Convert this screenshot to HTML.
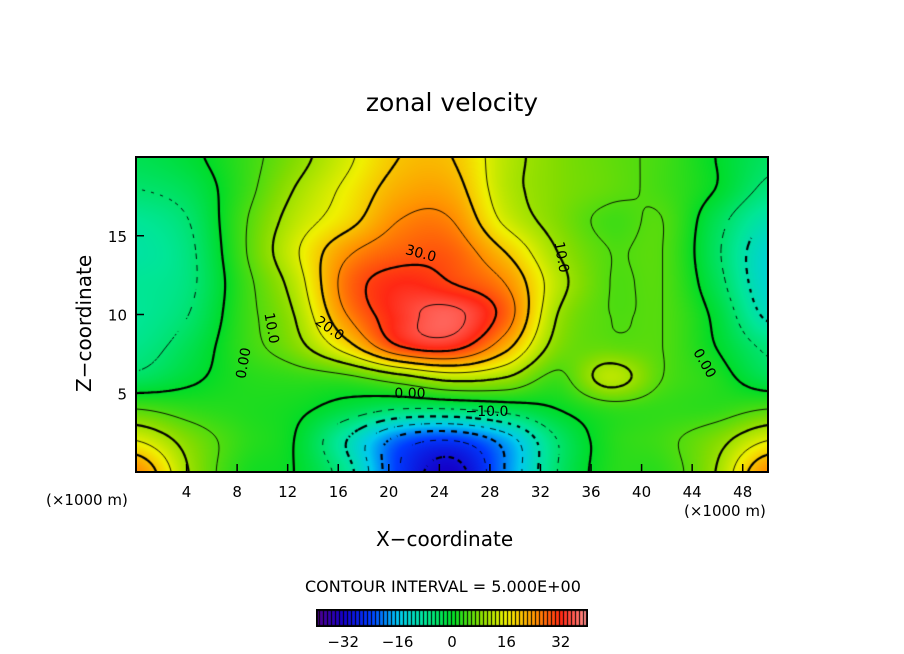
<!DOCTYPE html>
<html><head><meta charset="utf-8"><style>
body{margin:0;background:#fff;width:904px;height:654px;overflow:hidden;position:relative;font-family:"DejaVu Sans","Liberation Sans",sans-serif;}
.t{position:absolute;color:#000;white-space:nowrap;}
</style></head><body>
<div class="t" style="left:0;width:904px;text-align:center;top:88px;font-size:25px;">zonal velocity</div>
<canvas id="c" width="632" height="315" style="position:absolute;left:136px;top:157px"></canvas>
<canvas id="cb" width="272" height="18" style="position:absolute;left:316px;top:609px"></canvas>
<svg id="s" width="904" height="654" style="position:absolute;left:0;top:0;z-index:2"></svg>
<div class="t" style="font-size:20px;transform:rotate(-90deg);transform-origin:0 0;top:392px;left:72px;">Z−coordinate</div>
<div class="t" style="left:376px;top:527px;font-size:20px;">X−coordinate</div>
<div class="t" style="left:46px;top:491px;font-size:15px;">(×1000 m)</div>
<div class="t" style="left:684px;top:502px;font-size:15px;">(×1000 m)</div>
<div class="t" style="left:305px;top:577px;font-size:16px;">CONTOUR INTERVAL = 5.000E+00</div>
<script>
const xs=[0,4.1667,8.3333,12.5,16.6667,20.8333,25,29.1667,33.3333,37.5,41.6667,45.8333,50];
const ys=[0,2,4,6,8,10,12,14,16,18,20];
const r0=[25,10,2,0,-8,-25,-32,-20,-5,2,3,10,25];
const r2=[15,8,3,0,-10,-22,-25,-18,-5,2,4,8,15];
const r4=[5,3,2,1,-2,-5,-5,-3,0,3,3,3,5];
const r6=[-4,-1,2,3,4,8,12,10,4,12,5,2,-3];
const r8=[-7,-3,3,8,18,30,32,22,8,6,5,0,-6];
const r10=[-8,-5,3,10,25,33,36,28,10,5,5,-1,-11];
const r12=[-8,-6,3,12,27,32,30,25,12,5,5,-3,-13];
const r14=[-9,-6,4,14,24,28,28,20,10,5,5,-4,-13];
const r16=[-8,-5,4,12,18,25,25,14,8,4,5,-3,-10];
const r18=[-5,-3,3,10,16,22,22,12,8,6,4,0,-6];
const r20=[-3,-1,3,8,14,20,20,12,8,6,4,0,-4];
const rows=[r0,r2,r4,r6,r8,r10,r12,r14,r16,r18,r20];
const xTicks=[4,8,12,16,20,24,28,32,36,40,44,48];
const yTicks=[5,10,15];
const cbTicks=[-32,-16,0,16,32];
const X0=136,X1=768,Y0=472,Y1=157;
const sx=v=>X0+(v/50)*(X1-X0), sy=v=>Y0-(v/20)*(Y0-Y1);
function cr(p0,p1,p2,p3,t){return 0.5*(2*p1+(-p0+p2)*t+(2*p0-5*p1+4*p2-p3)*t*t+(-p0+3*p1-3*p2+p3)*t*t*t);}
function g(i,j){i=Math.max(0,Math.min(xs.length-1,i));j=Math.max(0,Math.min(ys.length-1,j));return rows[j][i];}
function field(x,y){
  let fx=x/(50/12),fy=y/2;let i=Math.min(11,Math.floor(fx)),j=Math.min(9,Math.floor(fy));let tx=fx-i,ty=fy-j;
  let c=[];for(let k=-1;k<3;k++)c.push(cr(g(i-1,j+k),g(i,j+k),g(i+1,j+k),g(i+2,j+k),tx));
  return cr(c[0],c[1],c[2],c[3],ty);}
const stops=[[-40,[80,0,140]],[-32,[20,0,200]],[-24,[0,60,255]],[-16,[0,200,240]],[-8,[0,230,150]],[0,[0,220,40]],[8,[130,220,0]],[16,[240,240,0]],[24,[255,150,0]],[32,[255,40,20]],[40,[255,150,150]]];
function col(v){v=Math.max(-40,Math.min(40,v));for(let k=0;k<stops.length-1;k++){if(v<=stops[k+1][0]){let a=stops[k],b=stops[k+1],t=(v-a[0])/(b[0]-a[0]);return a[1].map((c,n)=>Math.round(c+(b[1][n]-c)*t));}}return stops[stops.length-1][1];}
const c=document.getElementById('c'),ctx=c.getContext('2d');
const W=632,H=315,img=ctx.createImageData(W,H);
const step=3,GW=Math.ceil(W/step)+1,GH=Math.ceil(H/step)+1,F=[];
for(let py=0;py<H;py++)for(let px=0;px<W;px++){let v=field(px/W*50,(H-py)/H*20);let cc=col(v),o=(py*W+px)*4;img.data[o]=cc[0];img.data[o+1]=cc[1];img.data[o+2]=cc[2];img.data[o+3]=255;}
ctx.putImageData(img,0,0);
for(let j=0;j<GH;j++){F[j]=[];for(let i=0;i<GW;i++){F[j][i]=field(Math.min(W,i*step)/W*50,(H-Math.min(H,j*step))/H*20);}}
for(let L=-30;L<=35;L+=5){
  ctx.beginPath();ctx.lineWidth=(L%10===0)?2.2:0.9;ctx.strokeStyle='#000';
  for(let j=0;j<GH-1;j++)for(let i=0;i<GW-1;i++){
    if(L<0 && ((i+j)%4)>=2) continue;
    const p=[[i,j,F[j][i]],[i+1,j,F[j][i+1]],[i+1,j+1,F[j+1][i+1]],[i,j+1,F[j+1][i]]];let pts=[];
    for(let k=0;k<4;k++){const a=p[k],b=p[(k+1)%4];if((a[2]<L)!==(b[2]<L)){const t=(L-a[2])/(b[2]-a[2]);pts.push([(a[0]+(b[0]-a[0])*t)*step,(a[1]+(b[1]-a[1])*t)*step]);}}
    for(let k=0;k+1<pts.length;k+=2){ctx.moveTo(pts[k][0],pts[k][1]);ctx.lineTo(pts[k+1][0],pts[k+1][1]);}
  }ctx.stroke();}
const cb=document.getElementById('cb'),cx2=cb.getContext('2d');
for(let px=0;px<272;px++){let cc=col(-40+px/272*80);cx2.fillStyle=`rgb(${cc})`;cx2.fillRect(px,0,1,18);if(px%4===3){cx2.fillStyle='#000';cx2.fillRect(px,0,1,18);}}
cx2.strokeStyle='#000';cx2.lineWidth=2;cx2.strokeRect(1,1,270,16);
const s=document.getElementById('s'),NS='http://www.w3.org/2000/svg';
function el(t,a){const e=document.createElementNS(NS,t);for(const k in a)e.setAttribute(k,a[k]);s.appendChild(e);return e;}
const fr=el('rect',{x:X0,y:Y1,width:X1-X0,height:Y0-Y1,fill:'none',stroke:'#000','stroke-width':2});


xTicks.forEach(v=>{const l=el('line',{x1:sx(v),x2:sx(v),y1:Y0,y2:Y0-8,stroke:'#000','stroke-width':1.5});


const t=el('text',{x:sx(v),y:497,'text-anchor':'middle','font-size':15,'font-family':'DejaVu Sans,Liberation Sans,sans-serif'});t.textContent=v;

});
yTicks.forEach(v=>{const l=el('line',{x1:X0,x2:X0+8,y1:sy(v),y2:sy(v),stroke:'#000','stroke-width':1.5});


const t=el('text',{x:127,y:sy(v)+6,'text-anchor':'end','font-size':15,'font-family':'DejaVu Sans,Liberation Sans,sans-serif'});t.textContent=v;

});
cbTicks.forEach(v=>{const t=el('text',{x:316+(v+40)/80*272,y:647,'text-anchor':'middle','font-size':15,'font-family':'DejaVu Sans,Liberation Sans,sans-serif'});t.textContent=(v<0?'−':'')+Math.abs(v);

});
[[421,258,'30.0',15],[330,333,'20.0',35],[272,333,'10.0',80],[243,368,'0.00',-80],[410,398,'0.00',0],[487,416,'−10.0',0],[562,262,'10.0',80],[705,368,'0.00',60]].forEach(a=>{
const t=el('text',{x:a[0],y:a[1],'text-anchor':'middle','font-size':14,'font-family':'DejaVu Sans,Liberation Sans,sans-serif',transform:`rotate(${a[3]} ${a[0]} ${a[1]-5})`});t.textContent=a[2];

});
</script>
</body></html>
